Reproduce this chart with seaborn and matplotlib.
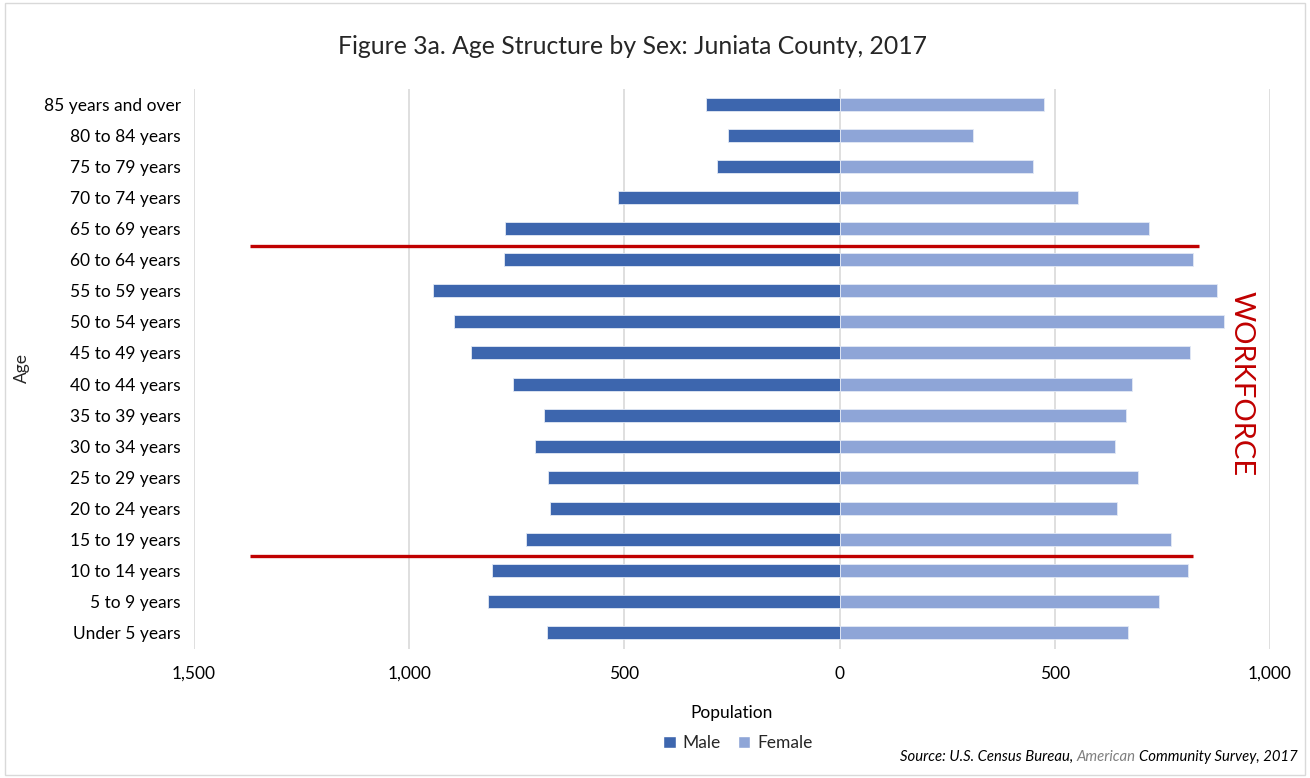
import matplotlib
matplotlib.use("Agg")
import matplotlib.pyplot as plt
import matplotlib.ticker as mticker
from matplotlib.patches import Patch
import seaborn as sns
import pandas as pd

ages = ["85 years and over", "80 to 84 years", "75 to 79 years", "70 to 74 years",
        "65 to 69 years", "60 to 64 years", "55 to 59 years", "50 to 54 years",
        "45 to 49 years", "40 to 44 years", "35 to 39 years", "30 to 34 years",
        "25 to 29 years", "20 to 24 years", "15 to 19 years", "10 to 14 years",
        "5 to 9 years", "Under 5 years"]
male = [311, 260, 286, 515, 778, 780, 945, 896, 857, 759, 687, 708, 678, 673, 729, 808, 817, 680]
female = [474, 311, 450, 553, 720, 820, 878, 892, 813, 680, 666, 641, 694, 645, 769, 810, 743, 671]
xticks = [-1500, -1000, -500, 0, 500, 1000]

MALE_C = "#3D66AE"
FEMALE_C = "#8EA5D7"

sns.set_theme(style="white")
plt.rcParams["font.family"] = ["Lato", "DejaVu Sans"]

df = pd.DataFrame({
    "Age": ages * 2,
    "Population": [-v for v in male] + female,
    "Sex": ["Male"] * len(ages) + ["Female"] * len(ages),
})

fig = plt.figure(figsize=(13.1, 7.78), dpi=100)
ax = fig.add_axes([194 / 1310, 1 - 648.5 / 778, (1270 - 194) / 1310, (648.5 - 88.5) / 778])

sns.barplot(data=df, y="Age", x="Population", hue="Sex", order=ages,
            palette={"Male": MALE_C, "Female": FEMALE_C}, dodge=False, saturation=1,
            width=0.42, orient="h", ax=ax, legend=False,
            edgecolor="#e3e9f5", linewidth=0.6, zorder=3)

ax.set_xlim(-1500, 1000)
ax.set_ylim(len(ages) - 0.5, -0.5)
ax.set_xticks(xticks)
ax.xaxis.set_major_formatter(mticker.FuncFormatter(lambda v, p: f"{abs(int(v)):,}"))
ax.grid(axis="x", color="#d9d9d9", linewidth=1.2, zorder=0)
ax.grid(axis="y", visible=False)
for s in ax.spines.values():
    s.set_visible(False)
ax.tick_params(axis="x", labelsize=12.5, colors="#000000", pad=12.5, length=0)
ax.tick_params(axis="y", labelsize=12.5, colors="#000000", pad=9.5, length=0)
ax.set_xlabel("Population", fontsize=12.5, labelpad=17, color="#000000")
ax.set_ylabel("")
fig.text(22 / 1310, 1 - 368 / 778, "Age", rotation=90, ha="center", va="center", fontsize=12.5)

# workforce boundary lines
line_x_top = (-1370, 836)
line_x_bottom = (-1370, 820)
ax.plot(line_x_top, [4.55, 4.55], color="#C00000", linewidth=2.4, zorder=5, solid_capstyle="butt")
ax.plot(line_x_bottom, [14.52, 14.52], color="#C00000", linewidth=2.4, zorder=5, solid_capstyle="butt")
ax.text(933, 9.0, "WORKFORCE", rotation=-90, color="#C00000", fontsize=21,
        ha="center", va="center")

fig.text(632 / 1310, 1 - 46 / 778, "Figure 3a. Age Structure by Sex: Juniata County, 2017",
         ha="center", va="center", fontsize=17.8)

# legend
handles = [Patch(facecolor=MALE_C, label="Male"), Patch(facecolor=FEMALE_C, label="Female")]
fig.legend(handles=handles, loc="center", bbox_to_anchor=(738 / 1310, 1 - 743 / 778), ncol=2,
           frameon=False, fontsize=12.5, handlelength=0.7, handleheight=0.7, handletextpad=0.4,
           columnspacing=1.0)

# source
src_y = 1 - 757 / 778
fs = 10.7
t1 = fig.text(1298 / 1310, src_y, "Community Survey, 2017", ha="right", va="center",
              fontsize=fs, style="italic", color="#000000")
fig.canvas.draw()
r = fig.canvas.get_renderer()
bb = t1.get_window_extent(r)
t2 = fig.text(bb.x0 / fig.bbox.width, src_y, "American ", ha="right", va="center", fontsize=fs,
              style="italic", color="#7f7f7f")
bb2 = t2.get_window_extent(r)
fig.text(bb2.x0 / fig.bbox.width, src_y, "Source: U.S. Census Bureau, ", ha="right", va="center",
         fontsize=fs, style="italic", color="#000000")

# outer border
fig.patches.append(plt.Rectangle((0.004, 0.004), 0.992, 0.992, transform=fig.transFigure,
                                 fill=False, edgecolor="#d9d9d9", linewidth=1))

fig.savefig("out.png", dpi=100)
